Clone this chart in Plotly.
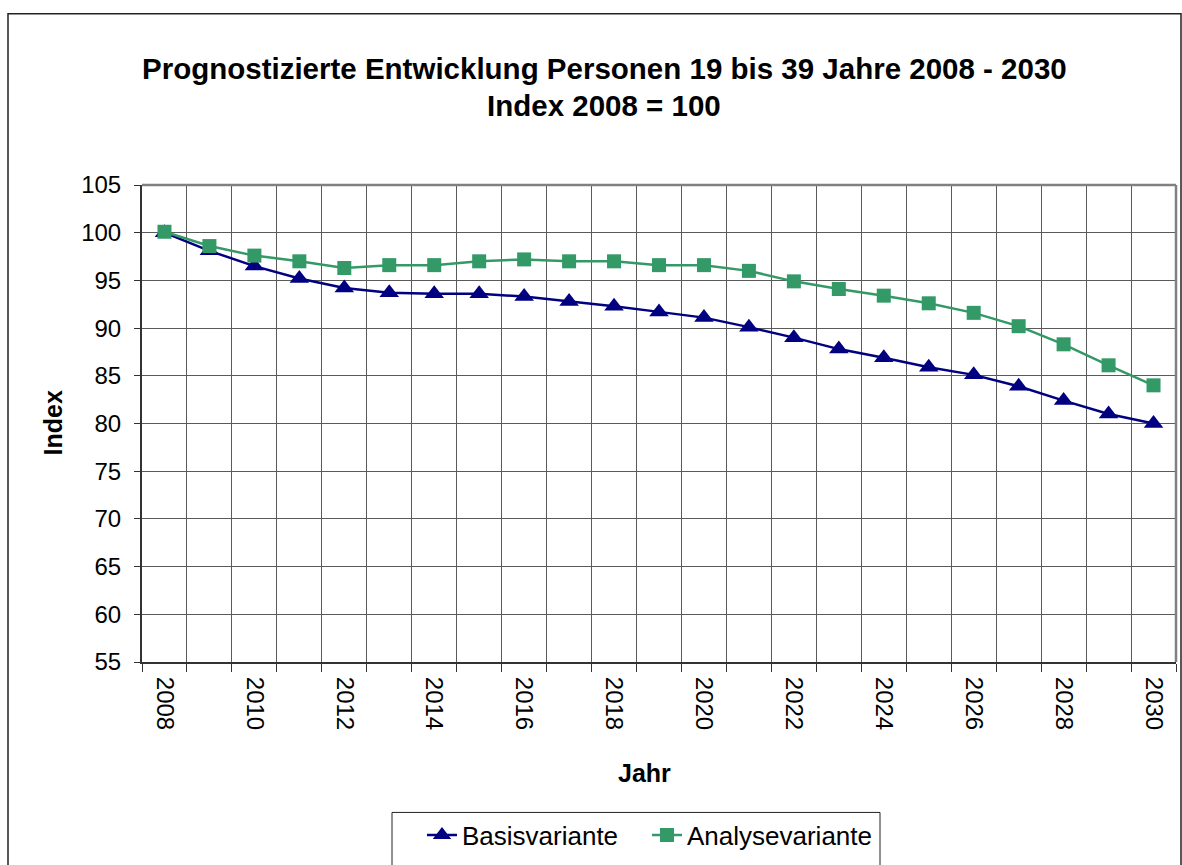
import plotly.graph_objects as go

# Prognose: Personen 19 bis 39 Jahre, Index 2008 = 100
jahre = list(range(2008, 2031))
basisvariante = [100.0, 98.1, 96.5, 95.2, 94.2, 93.7, 93.6, 93.6, 93.3, 92.8, 92.3, 91.7,
                 91.1, 90.1, 89.0, 87.8, 86.9, 85.9, 85.1, 83.9, 82.4, 81.0, 80.0]
analysevariante = [100.1, 98.6, 97.6, 97.0, 96.3, 96.6, 96.6, 97.0, 97.2, 97.0, 97.0, 96.6,
                   96.6, 96.0, 94.9, 94.1, 93.4, 92.6, 91.6, 90.2, 88.3, 86.1, 84.0]
x_labels = [str(j) for j in range(2008, 2031, 2)]
y_ticks = list(range(55, 106, 5))

FONT = "Liberation Sans, Arial, sans-serif"
W, H = 1182, 865
L, R, T, B = 142, 1176, 185, 667          # plot area in pixels
PW, PH = R - L, B - T


def px_x(p):
    return (p - L) / PW


def px_y(p):
    return (B - p) / PH


fig = go.Figure()
fig.add_trace(go.Scatter(
    x=jahre, y=basisvariante, name="Basisvariante", mode="lines+markers",
    line=dict(color="#000080", width=2.5),
    marker=dict(symbol="triangle-up", size=17, color="#000080"),
))
fig.add_trace(go.Scatter(
    x=jahre, y=analysevariante, name="Analysevariante", mode="lines+markers",
    line=dict(color="#339966", width=2.5),
    marker=dict(symbol="square", size=14, color="#339966"),
))

grid = "#5a5a5a"
fig.update_xaxes(
    range=[2007.5, 2030.5], tickmode="array", tickvals=list(range(2008, 2031, 2)),
    ticktext=x_labels, tickangle=90, ticks="", showgrid=False,
    tickfont=dict(family=FONT, size=24, color="#000"),
    showline=True, linecolor="#333", linewidth=2, zeroline=False,
    minor=dict(tickmode="linear", tick0=2007.5, dtick=1, ticks="outside", ticklen=8,
               tickcolor="#333", tickwidth=1, showgrid=True, gridcolor=grid, gridwidth=1),
    ticklabelstandoff=8,
)
fig.update_yaxes(
    range=[55, 105], tickmode="array", tickvals=y_ticks, ticks="outside", ticklen=6,
    tickcolor="#333", showgrid=True, gridcolor=grid, gridwidth=1,
    tickfont=dict(family=FONT, size=24, color="#000"),
    showline=True, linecolor="#333", linewidth=2, zeroline=False,
    ticklabelstandoff=8,
)

shapes = [
    # outer chart frame
    dict(type="rect", xref="paper", yref="paper", x0=px_x(8), x1=px_x(1181),
         y0=px_y(880), y1=px_y(12), line=dict(color="#222", width=1.5), layer="above"),
    # plot area top and right edges
    dict(type="line", xref="paper", yref="paper", x0=0, x1=1, y0=1, y1=1,
         line=dict(color="#808080", width=2.5), layer="above"),
    dict(type="line", xref="paper", yref="paper", x0=1, x1=1, y0=0, y1=1,
         line=dict(color="#808080", width=2.5), layer="above"),
    # legend frame
    dict(type="rect", xref="paper", yref="paper", x0=px_x(392), x1=px_x(880),
         y0=px_y(880), y1=px_y(819), line=dict(color="#222", width=1), layer="above"),
]

annotations = [
    dict(text="<b>Prognostizierte Entwicklung Personen 19 bis 39 Jahre 2008 - 2030</b>",
         xref="paper", yref="paper", x=px_x(604), y=px_y(67), showarrow=False,
         font=dict(family=FONT, size=29.5, color="#000"), xanchor="center", yanchor="middle"),
    dict(text="<b>Index 2008 = 100</b>",
         xref="paper", yref="paper", x=px_x(604), y=px_y(105), showarrow=False,
         font=dict(family=FONT, size=29.5, color="#000"), xanchor="center", yanchor="middle"),
    dict(text="<b>Index</b>", xref="paper", yref="paper", x=px_x(52), y=px_y(426),
         textangle=-90, showarrow=False, font=dict(family=FONT, size=25, color="#000"),
         xanchor="center", yanchor="middle"),
    dict(text="<b>Jahr</b>", xref="paper", yref="paper", x=px_x(644), y=px_y(779),
         showarrow=False, font=dict(family=FONT, size=25, color="#000"),
         xanchor="center", yanchor="middle"),
]

fig.update_layout(
    width=W, height=H, autosize=False,
    margin=dict(l=L, r=W - R, t=T, b=H - B, pad=0),
    paper_bgcolor="white", plot_bgcolor="white",
    shapes=shapes, annotations=annotations,
    showlegend=True,
    legend=dict(orientation="h", x=px_x(422), y=px_y(842), xanchor="left", yanchor="middle",
                font=dict(family=FONT, size=26, color="#000"), bgcolor="rgba(0,0,0,0)",
                borderwidth=0, itemwidth=30, tracegroupgap=0,
                entrywidthmode="pixels", entrywidth=180),
)

fig.write_html("out.html")
